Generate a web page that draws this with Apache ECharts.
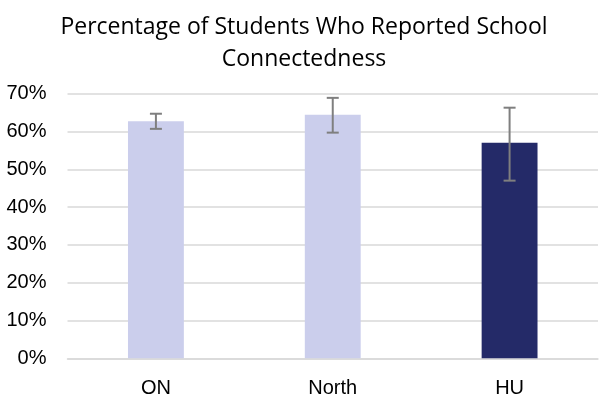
<!DOCTYPE html>
<html>
<head>
<meta charset="utf-8">
<script src="https://cdn.jsdelivr.net/npm/echarts@6/dist/echarts.min.js"></script>
<style>
  html, body { margin: 0; padding: 0; background: #fff; }
  #main { width: 608px; height: 407px; }
</style>
</head>
<body>
<div id="main"></div>
<script>
const categories = ['ON', 'North', 'HU'];
const values = [62.7, 64.4, 57.0];
const errLow = [60.7, 59.7, 47.0];
const errHigh = [64.7, 68.9, 66.3];
const barColors = ['#CBCEEC', '#CBCEEC', '#242A68'];
const yTicks = [0, 10, 20, 30, 40, 50, 60, 70];

const chart = echarts.init(document.getElementById('main'));

const option = {
  animation: false,
  title: {
    text: 'Percentage of Students Who Reported School\nConnectedness',
    left: 'center',
    top: 6,
    textStyle: {
      fontFamily: 'Open Sans',
      fontWeight: 'normal',
      fontSize: 23,
      color: '#000',
      lineHeight: 32
    }
  },
  grid: { left: 67.5, right: 10, top: 93.7, bottom: 48.7 },
  xAxis: {
    type: 'category',
    data: categories,
    axisTick: { show: false },
    axisLine: { lineStyle: { color: '#d9d9d9', width: 1.5 } },
    axisLabel: { color: '#000', fontSize: 20, fontFamily: 'Liberation Sans', margin: 20 }
  },
  yAxis: {
    type: 'value',
    min: yTicks[0],
    max: yTicks[yTicks.length - 1],
    interval: 10,
    axisLine: { show: false },
    axisTick: { show: false },
    splitLine: { lineStyle: { color: '#d9d9d9', width: 1.5 } },
    axisLabel: {
      color: '#000', fontSize: 20, fontFamily: 'Liberation Sans', margin: 21,
      formatter: v => v + '%'
    }
  },
  series: [
    {
      type: 'bar',
      barWidth: '31.6%',
      data: values.map((v, i) => ({ value: v, itemStyle: { color: barColors[i] } }))
    },
    {
      type: 'custom',
      data: categories.map((c, i) => [i, errLow[i], errHigh[i]]),
      renderItem: (params, api) => {
        const lo = api.coord([api.value(0), api.value(1)]);
        const hi = api.coord([api.value(0), api.value(2)]);
        const hw = 6;
        const style = { stroke: '#7f7f7f', lineWidth: 2 };
        return {
          type: 'group',
          children: [
            { type: 'line', shape: { x1: lo[0], y1: lo[1], x2: hi[0], y2: hi[1] }, style },
            { type: 'line', shape: { x1: lo[0] - hw, y1: lo[1], x2: lo[0] + hw, y2: lo[1] }, style },
            { type: 'line', shape: { x1: hi[0] - hw, y1: hi[1], x2: hi[0] + hw, y2: hi[1] }, style }
          ]
        };
      },
      z: 10
    }
  ]
};

chart.setOption(option);
</script>
</body>
</html>
